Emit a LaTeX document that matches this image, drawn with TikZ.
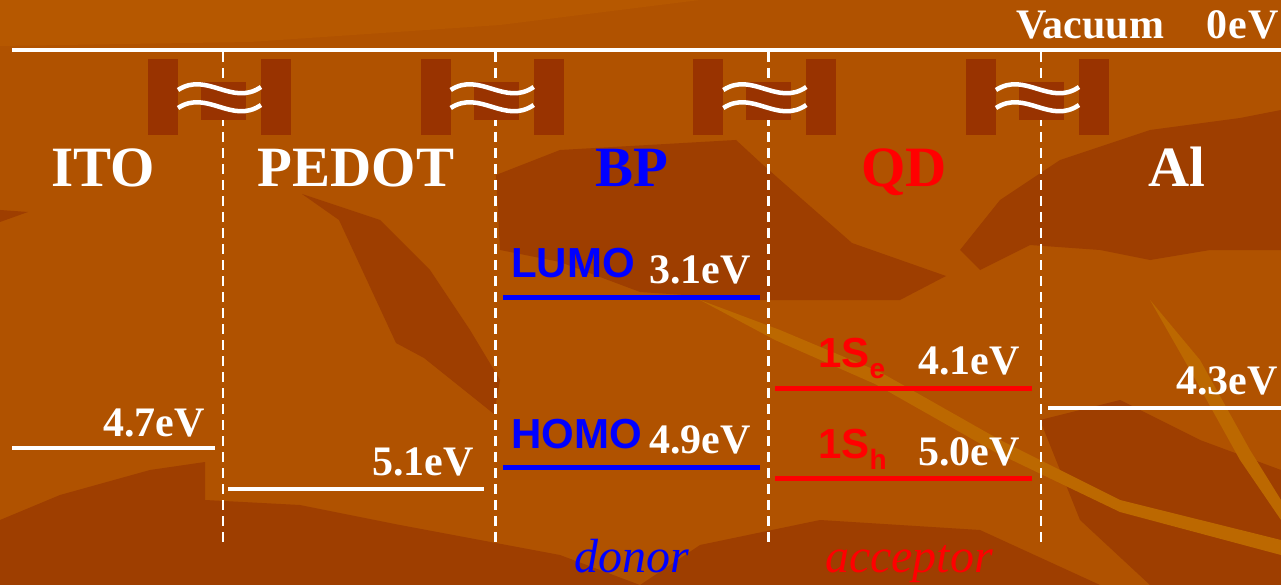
\documentclass[tikz,border=0pt]{standalone}
\usepackage{fontspec}
\setmainfont{Liberation Serif}
\newfontfamily\arialf{Liberation Sans}
\definecolor{bgbase}{RGB}{176,82,0}
\definecolor{bgdark}{RGB}{158,62,0}
\definecolor{bglight}{RGB}{188,104,0}
\definecolor{bgtop}{RGB}{182,88,0}
\definecolor{brk}{RGB}{153,51,0}
\definecolor{pblue}{RGB}{0,0,255}
\definecolor{pred}{RGB}{255,0,0}
\begin{document}
\begin{tikzpicture}[x=1pt,y=-1pt,
  darkleaf/.style={fill=bgdark,draw=none},
  lightstreak/.style={fill=bglight,draw=none},
  level/.style={line width=4pt},
  orbital/.style={line width=5pt},
  divider/.style={white,line width=2.5pt,dash pattern=on 10pt off 6pt},
  wave/.style={white,line width=4.5pt},
  head/.style={font=\fontsize{57}{60}\selectfont\bfseries,inner sep=0pt,anchor=base},
  ev/.style={font=\fontsize{42}{44}\selectfont\bfseries,text=white,inner sep=0pt,anchor=base east},
  orb/.style={font=\fontsize{42}{44}\selectfont\arialf\bfseries,inner sep=0pt,anchor=base west},
  role/.style={font=\fontsize{48}{50}\selectfont\itshape,inner sep=0pt,anchor=base}]
\useasboundingbox (0,0) rectangle (1281,585);
% background texture
\fill[bgbase] (0,0) rectangle (1281,585);
\fill[bgtop] (0,0) -- (700,0) -- (500,25) -- (250,42) -- (0,46) -- cycle;
\fill[darkleaf] (496,175) -- (560,150) -- (736,140) -- (762,164) -- (852,243) -- (946,276) -- (900,300) -- (760,300) -- (640,292) -- (560,262) -- (500,250) -- cycle;
\fill[darkleaf] (302,194) -- (339,220) -- (396,343) -- (424,358) -- (494,414) -- (500,380) -- (470,330) -- (430,270) -- (380,220) -- cycle;
\fill[darkleaf] (0,585) -- (0,520) -- (60,495) -- (150,470) -- (205,462) -- (205,500) -- (300,505) -- (400,525) -- (480,540) -- (560,555) -- (640,585) -- cycle;
\fill[darkleaf] (0,210) -- (28,212) -- (0,222) -- cycle;
\fill[darkleaf] (960,250) -- (1000,200) -- (1060,160) -- (1150,130) -- (1240,118) -- (1281,110) -- (1281,250) -- (1210,250) -- (1150,260) -- (1100,250) -- (1030,245) -- (980,270) -- cycle;
\fill[darkleaf] (1040,420) -- (1120,400) -- (1200,440) -- (1281,470) -- (1281,585) -- (1150,585) -- (1080,520) -- cycle;
\fill[darkleaf] (640,585) -- (700,545) -- (820,520) -- (980,530) -- (1100,585) -- cycle;
\fill[lightstreak] (700,300) -- (780,330) -- (880,372) -- (1000,440) -- (1120,500) -- (1281,540) -- (1281,555) -- (1120,512) -- (995,452) -- (875,384) -- (775,340) -- cycle;
\fill[lightstreak] (1150,300) -- (1200,360) -- (1250,450) -- (1281,500) -- (1281,520) -- (1240,460) -- (1190,370) -- cycle;
% vacuum level
\draw[white,line width=4pt] (12,50) -- (1281,50);
\node[font=\fontsize{42}{44}\selectfont\bfseries,text=white,inner sep=0pt,anchor=base west] (vac) at (1016,39) {Vacuum};
\node[font=\fontsize{42}{44}\selectfont\bfseries,text=white,inner sep=0pt,anchor=base west] (zero) at (1206,39) {0\kern1pt e\kern2pt V};
% layer boundaries
\foreach \c in {223,495.7,768.3,1041} {
  \draw[divider] (\c,52) -- (\c,545);
}
% axis breaks
\foreach \c in {223,495.7,768.3,1041} {
  \fill[brk] (\c-75,59) rectangle (\c-45,135);
  \fill[brk] (\c+38,59) rectangle (\c+68,135);
  \fill[brk] (\c-22,82) rectangle (\c+23,120);
  \draw[wave] (\c-45,90) .. controls (\c-16,71) and (\c+9,107) .. (\c+38,87);
  \draw[wave] (\c-45,108) .. controls (\c-16,89) and (\c+9,125) .. (\c+38,105);
}
% layer names
\node[head,text=white] (ito) at (103,187) {ITO};
\node[head,text=white] (pedot) at (356,187) {PEDOT};
\node[head,text=pblue] (bp) at (632,187) {BP};
\node[head,text=pred] (qd) at (904,187) {QD};
\node[head,text=white] (al) at (1177,187) {Al};
% ITO and PEDOT work functions
\draw[level,white] (12,448) -- (215,448);
\node[ev] (ito-ev) at (205,436) {4.7eV};
\draw[level,white] (228,489) -- (484,489);
\node[ev] (pedot-ev) at (474,475) {5.1eV};
% BP levels
\draw[orbital,pblue] (503,297) -- (760,297);
\node[orb,text=pblue] (lumo) at (511,277) {LUMO};
\node[ev] (lumo-ev) at (751,283) {3.1eV};
\draw[orbital,pblue] (503,467) -- (760,467);
\node[orb,text=pblue] (homo) at (511,448) {HOMO};
\node[ev] (homo-ev) at (751,453) {4.9eV};
% QD levels
\draw[orbital,pred] (775,388) -- (1032,388);
\node[orb,text=pred] (se) at (818,367) {1S\raisebox{-11pt}{\fontsize{28}{28}\selectfont e}};
\node[ev] (se-ev) at (1020,374) {4.1eV};
\draw[orbital,pred] (775,478) -- (1032,478);
\node[orb,text=pred] (sh) at (818,458) {1S\raisebox{-11pt}{\fontsize{28}{28}\selectfont h}};
\node[ev] (sh-ev) at (1020,465) {5.0eV};
% Al work function
\draw[level,white] (1048,408) -- (1281,408);
\node[ev] (al-ev) at (1278,394) {4.3eV};
% roles
\node[role,text=pblue] (donor) at (632,572) {donor};
\node[role,text=pred] (acceptor) at (909,572) {acceptor};
\end{tikzpicture}
\end{document}
